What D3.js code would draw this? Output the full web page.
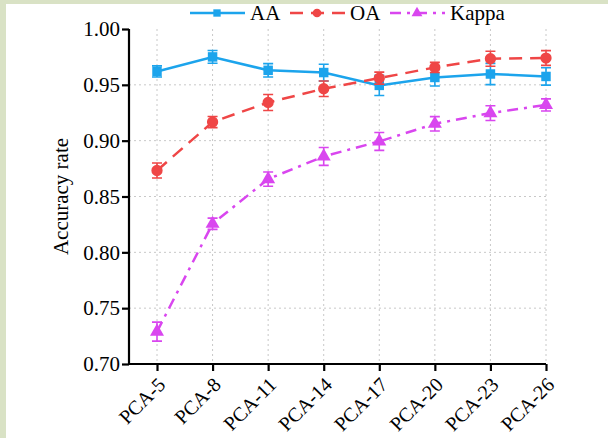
<!DOCTYPE html>
<meta charset="utf-8">
<style>
    body { margin: 0; background: #fff; }
    text { font-family: "Liberation Serif", "Times New Roman", serif; fill: #000; }
    .grid line { stroke: #c8c8c8; stroke-width: 1; stroke-dasharray: 2, 3; }
</style>
<body>
    <svg width="608" height="438"></svg>
</body>
<script src="https://d3js.org/d3.v7.min.js"></script>
<script>

    // data
    var categories = ["PCA-5", "PCA-8", "PCA-11", "PCA-14", "PCA-17", "PCA-20", "PCA-23", "PCA-26"];
    var aaValues    = [0.962, 0.975, 0.963, 0.961, 0.9495, 0.9566, 0.9597, 0.9575];
    var aaErrors    = [0.005, 0.0057, 0.006, 0.0075, 0.009, 0.0076, 0.0095, 0.0078];
    var oaValues    = [0.8733, 0.9167, 0.9342, 0.9465, 0.956, 0.9656, 0.9734, 0.974];
    var oaErrors    = [0.0067, 0.005, 0.0072, 0.007, 0.0054, 0.0045, 0.0067, 0.0066];
    var kappaValues = [0.729, 0.8256, 0.8656, 0.8859, 0.8993, 0.9151, 0.9247, 0.932];
    var kappaErrors = [0.0085, 0.005, 0.0064, 0.008, 0.008, 0.0064, 0.0066, 0.0054];
    var yTicks = [0.70, 0.75, 0.80, 0.85, 0.90, 0.95, 1.00];

    var series = [
        { name: "AA", values: aaValues, errors: aaErrors, color: "#1ca4ec", dash: null, symbol: d3.symbolSquare, size: 90 },
        { name: "OA", values: oaValues, errors: oaErrors, color: "#ef4646", dash: "13,8", symbol: d3.symbolCircle, size: 100 },
        { name: "Kappa", values: kappaValues, errors: kappaErrors, color: "#d946ef", dash: "11,6,3,6", symbol: d3.symbolTriangle, size: 85 }
    ];

    var svg = d3.select("svg");

    // light green frame on left and top
    svg.append("rect").attr("width", 608).attr("height", 438).attr("fill", "#d9e2c5");
    svg.append("rect").attr("x", 6).attr("y", 4).attr("width", 602).attr("height", 434).attr("fill", "#fff");

    var axisLeft = 129, axisBottom = 364, axisTop = 29, axisRight = 546;

    var x = d3.scalePoint()
        .domain(categories)
        .range([157, axisRight]);

    var y = d3.scaleLinear()
        .domain([0.70, 1.00])
        .range([axisBottom, axisTop]);

    // grid
    var grid = svg.append("g").attr("class", "grid");
    grid.selectAll(".v")
        .data(categories)
        .enter().append("line")
        .attr("x1", function (d) { return x(d); })
        .attr("x2", function (d) { return x(d); })
        .attr("y1", axisTop)
        .attr("y2", axisBottom);
    grid.selectAll(".h")
        .data(yTicks.slice(1, -1))
        .enter().append("line")
        .attr("x1", axisLeft)
        .attr("x2", axisRight)
        .attr("y1", function (d) { return y(d); })
        .attr("y2", function (d) { return y(d); });

    // y axis
    var yAxis = svg.append("g")
        .attr("transform", "translate(" + axisLeft + ",0)")
        .call(d3.axisLeft(y).tickValues(yTicks).tickFormat(d3.format(".2f")).tickSize(7).tickPadding(2));
    yAxis.select(".domain").attr("stroke-width", 2.2).attr("d", "M0," + axisTop + "V" + axisBottom);
    yAxis.selectAll(".tick line").attr("stroke-width", 2.2);
    yAxis.selectAll(".tick text").style("font-size", "21px");

    // x axis
    var xAxis = svg.append("g")
        .attr("transform", "translate(0," + axisBottom + ")")
        .call(d3.axisBottom(x).tickSize(7));
    xAxis.select(".domain").attr("stroke-width", 2.2).attr("d", "M" + axisLeft + ",0H" + axisRight);
    xAxis.selectAll(".tick line").attr("stroke-width", 2.2);
    xAxis.selectAll(".tick text")
        .style("font-size", "20px")
        .attr("text-anchor", "end")
        .attr("x", 0)
        .attr("y", 0)
        .attr("dy", 0)
        .attr("transform", "translate(9,22) rotate(-45)");

    // y label
    svg.append("text")
        .attr("transform", "translate(68," + ((axisTop + axisBottom) / 2) + ") rotate(-90)")
        .attr("text-anchor", "middle")
        .style("font-size", "21px")
        .text("Accuracy rate");

    // series
    series.forEach(function (s) {
        var g = svg.append("g");
        var line = d3.line()
            .x(function (d, i) { return x(categories[i]); })
            .y(function (d) { return y(d); });

        g.append("path")
            .datum(s.values)
            .attr("fill", "none")
            .attr("stroke", s.color)
            .attr("stroke-width", 2.5)
            .attr("stroke-dasharray", s.dash)
            .attr("d", line);

        // error bars
        s.values.forEach(function (v, i) {
            var cx = x(categories[i]);
            var e = s.errors[i];
            g.append("path")
                .attr("fill", "none")
                .attr("stroke", s.color)
                .attr("stroke-width", 1.6)
                .attr("d", "M" + cx + "," + y(v - e) + "V" + y(v + e)
                    + "M" + (cx - 5) + "," + y(v - e) + "H" + (cx + 5)
                    + "M" + (cx - 5) + "," + y(v + e) + "H" + (cx + 5));
        });

        g.selectAll(".pt")
            .data(s.values)
            .enter().append("path")
            .attr("fill", s.color)
            .attr("transform", function (d, i) { return "translate(" + x(categories[i]) + "," + y(d) + ")"; })
            .attr("d", d3.symbol().type(s.symbol).size(s.size));
    });

    // legend
    var legendX = [190, 290, 390];
    var legend = svg.append("g");
    series.forEach(function (s, i) {
        var lg = legend.append("g").attr("transform", "translate(" + legendX[i] + ",13)");
        lg.append("line")
            .attr("x1", 0).attr("x2", 55)
            .attr("stroke", s.color)
            .attr("stroke-width", 2.5)
            .attr("stroke-dasharray", s.dash);
        lg.append("path")
            .attr("fill", s.color)
            .attr("transform", "translate(27,0)")
            .attr("d", d3.symbol().type(s.symbol).size(s.size * 0.6));
        lg.append("text")
            .attr("x", 60)
            .attr("dy", "0.35em")
            .style("font-size", "21px")
            .text(s.name);
    });
</script>
